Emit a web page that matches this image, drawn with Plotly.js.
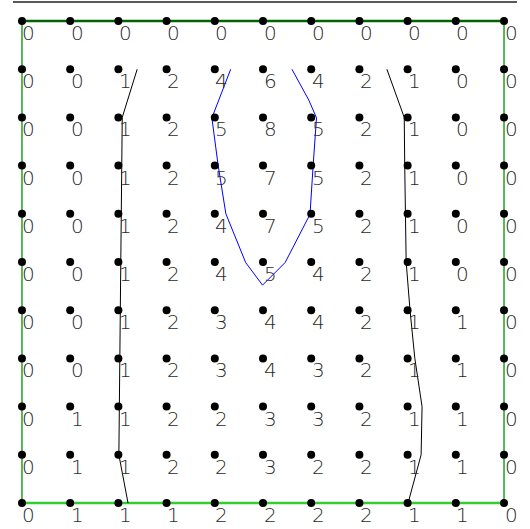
<!DOCTYPE html>
<html>
<head>
<meta charset="utf-8">
<script src="https://cdn.plot.ly/plotly-3.0.1.min.js"></script>
<style>
  html, body { margin: 0; padding: 0; background: #fff; }
  #grid { width: 530px; height: 529px; }
</style>
</head>
<body>
<div id="grid"></div>
<script>
// grid values, row 0 is the top row
var values = [
  [0, 0, 0, 0, 0, 0, 0, 0, 0, 0, 0],
  [0, 0, 1, 2, 4, 6, 4, 2, 1, 0, 0],
  [0, 0, 1, 2, 5, 8, 5, 2, 1, 0, 0],
  [0, 0, 1, 2, 5, 7, 5, 2, 1, 0, 0],
  [0, 0, 1, 2, 4, 7, 5, 2, 1, 0, 0],
  [0, 0, 1, 2, 4, 5, 4, 2, 1, 0, 0],
  [0, 0, 1, 2, 3, 4, 4, 2, 1, 1, 0],
  [0, 0, 1, 2, 3, 4, 3, 2, 1, 1, 0],
  [0, 1, 1, 2, 2, 3, 3, 2, 1, 1, 0],
  [0, 1, 1, 2, 2, 3, 2, 2, 1, 1, 0],
  [0, 1, 1, 1, 2, 2, 2, 2, 1, 1, 0]
];

// contour paths (col, row)
var leftCol  = [2.39, 2.08, 2.07, 2.06, 2.05, 2.04, 2.03, 2.02, 2.01, 2.20];
var leftRow  = [1, 2, 3, 4, 5, 6, 7, 8, 9, 10];
var rightCol = [7.57, 7.93, 7.94, 7.95, 7.97, 8.05, 8.15, 8.30, 8.28, 8.01];
var rightRow = [1, 2, 3, 4, 5, 6, 7, 8, 9, 10];
var blueCol  = [4.33, 3.94, 4.07, 4.23, 4.64, 4.99, 5.46, 5.975, 6.04, 6.11, 5.95, 5.60];
var blueRow  = [1, 2.01, 3, 4, 5.01, 5.48, 5.01, 4.01, 3, 2.01, 1.64, 1];

// boundary edges
var edgeTopCol = [0, 10], edgeTopRow = [0, 0];
var edgeBotCol = [0, 10], edgeBotRow = [10, 10];
var edgeLeftCol = [0, 0], edgeLeftRow = [0, 10];
var edgeRightCol = [10, 10], edgeRightRow = [0, 10];

function flip(rows) { return rows.map(function (r) { return 10 - r; }); }

var px = [], py = [], labels = [];
for (var r = 0; r < values.length; r++) {
  for (var c = 0; c < values[r].length; c++) {
    px.push(c);
    py.push(10 - r);
    labels.push(String(values[r][c]));
  }
}

function edge(xs, rows, color, w) {
  return { x: xs, y: flip(rows), mode: 'lines', type: 'scatter',
           line: { color: color, width: w }, hoverinfo: 'none' };
}

var data = [
  edge(edgeLeftCol, edgeLeftRow, '#22a022', 1.5),
  edge(edgeRightCol, edgeRightRow, '#22a022', 1.5),
  edge(edgeTopCol, edgeTopRow, '#006400', 2.5),
  edge(edgeBotCol, edgeBotRow, '#33cc33', 2.5),
  edge(leftCol, leftRow, '#000', 1),
  edge(rightCol, rightRow, '#000', 1),
  edge(blueCol, blueRow, '#0000ff', 1),
  {
    x: px, y: py,
    mode: 'markers', type: 'scatter',
    marker: { color: '#000', size: 8 },
    hoverinfo: 'none'
  }
];

var notes = px.map(function (x, i) {
  return {
    x: x, y: py[i], text: labels[i], showarrow: false,
    xshift: 7, yshift: -12,
    font: { family: 'DejaVu Sans', size: 20, color: '#2a2a2a', weight: 200 }
  };
});

var layout = {
  width: 530, height: 529,
  margin: { l: 0, r: 0, t: 0, b: 0 },
  showlegend: false,
  paper_bgcolor: '#fff', plot_bgcolor: '#fff',
  xaxis: { range: [-0.456, 10.539], visible: false, fixedrange: true },
  yaxis: { range: [-0.539, 10.436], visible: false, fixedrange: true },
  annotations: notes,
  shapes: [{
    type: 'line', xref: 'paper', yref: 'paper',
    x0: 13 / 530, x1: 517 / 530, y0: 1 - 2 / 529, y1: 1 - 2 / 529,
    line: { color: '#222', width: 1.5 }
  }]
};

Plotly.newPlot('grid', data, layout, { displayModeBar: false, staticPlot: true });
</script>
</body>
</html>
